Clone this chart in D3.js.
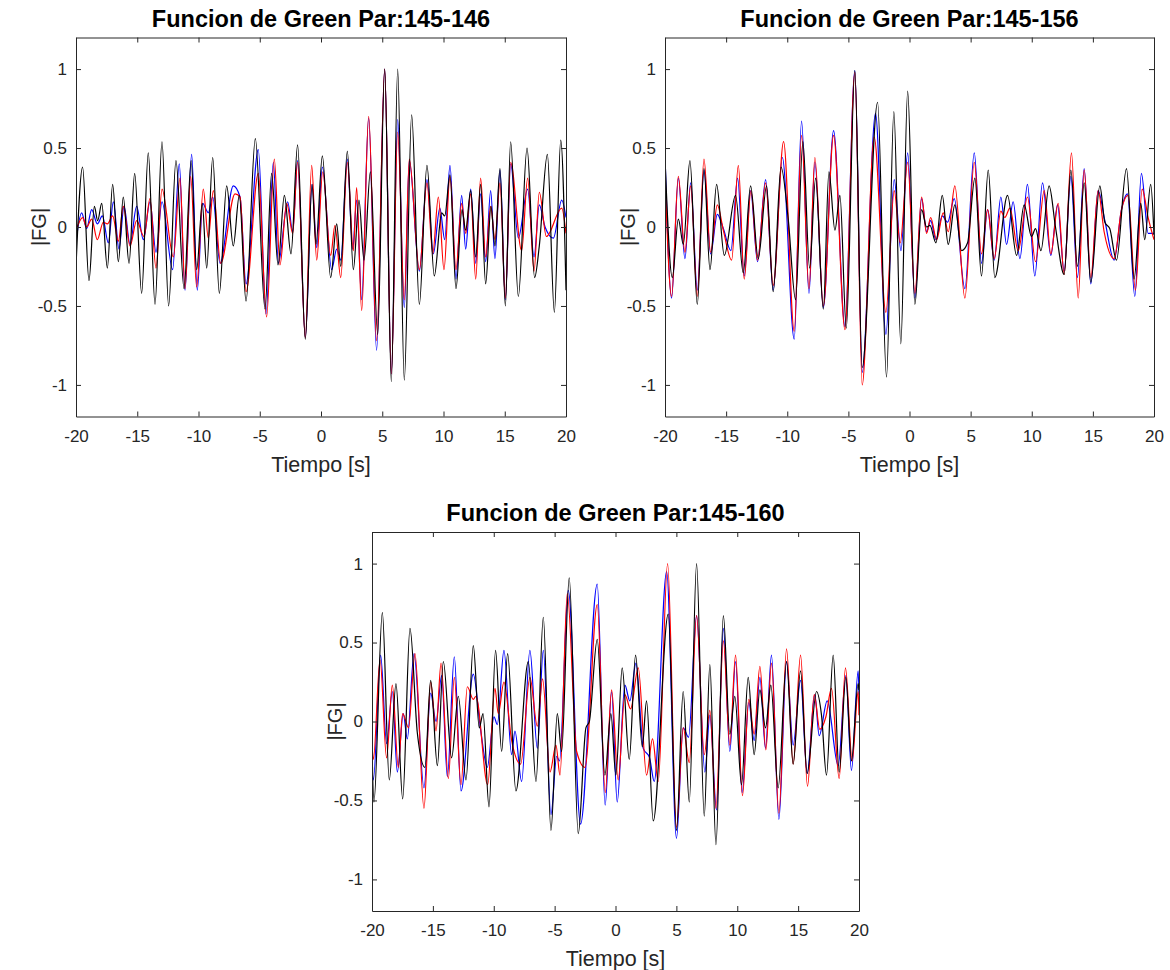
<!DOCTYPE html>
<html><head><meta charset="utf-8">
<script src="https://cdn.jsdelivr.net/npm/d3@7"></script>
<style>body{margin:0;background:#fff}</style></head>
<body>
<svg id="c" width="1170" height="970"></svg>
<script>
const xTicks=[-20,-15,-10,-5,0,5,10,15,20];
const yTicks=[-1,-0.5,0,0.5,1];
const titles=["Funcion de Green Par:145-146","Funcion de Green Par:145-156","Funcion de Green Par:145-160"];
const xLabel="Tiempo [s]";
const yLabel="|FG|";

const p1Black=[[-20,-0.25],[-19.46,0.38],[-18.94,-0.34],[-18.5,0.13],[-18.23,0.04],[-17.9,0.15],[-17.44,-0.26],[-17.01,0.27],[-16.54,-0.22],[-16.14,0.19],[-15.67,-0.23],[-15.21,0.34],[-14.64,-0.42],[-14.1,0.47],[-13.55,-0.49],[-12.98,0.54],[-12.44,-0.5],[-11.84,0.42],[-11.18,-0.39],[-10.6,0.42],[-10.15,-0.27],[-9.69,0.15],[-9.33,-0.26],[-8.84,0.44],[-8.3,-0.42],[-7.7,0.26],[-7.16,-0.12],[-6.67,0.2],[-6.12,-0.47],[-5.36,0.56],[-4.57,-0.52],[-4.03,0.34],[-3.51,-0.24],[-2.99,0.2],[-2.45,-0.17],[-1.91,0.52],[-1.28,-0.71],[-0.73,0.27],[-0.41,-0.11],[0.11,0.45],[0.79,-0.32],[1.28,0.02],[1.61,-0.25],[2.15,0.48],[2.64,-0.27],[3.1,0.17],[3.51,-0.21],[4.03,0.35],[4.63,-0.68],[5.2,1.0],[5.74,-0.98],[6.26,1.0],[6.8,-0.97],[7.4,0.71],[8.03,-0.49],[8.65,0.39],[9.25,-0.31],[9.85,0.09],[10.1,0.07],[10.53,0.33],[11.02,-0.39],[11.51,0.11],[11.81,-0.02],[12.22,0.23],[12.63,-0.19],[13.03,0.27],[13.44,-0.36],[13.88,0.13],[14.2,-0.12],[14.61,0.37],[15.05,-0.5],[15.48,0.54],[16.11,-0.44],[16.82,0.5],[17.44,-0.32],[17.82,-0.12],[18.48,0.46],[19.05,-0.54],[19.57,0.55],[20,-0.4]];
const p1Blue=[[-20,-0.09],[-19.54,0.09],[-19.13,-0.01],[-18.72,0.11],[-18.26,0.02],[-17.85,0.07],[-17.36,-0.1],[-16.95,0.16],[-16.49,-0.14],[-16.08,0.13],[-15.59,-0.11],[-15.05,0.13],[-14.5,-0.08],[-13.96,0.16],[-13.47,-0.16],[-12.98,0.16],[-12.11,-0.27],[-11.57,0.4],[-11.1,-0.4],[-10.56,0.46],[-10.1,-0.4],[-9.66,0.15],[-9.2,0.09],[-8.84,0.19],[-8.24,-0.23],[-7.16,0.26],[-6.61,0.19],[-6.12,-0.36],[-5.12,0.49],[-4.49,-0.55],[-3.89,0.41],[-3.48,-0.23],[-2.72,0.16],[-2.31,-0.03],[-1.91,0.42],[-1.28,-0.7],[-0.73,0.27],[-0.35,-0.13],[0.11,0.38],[0.87,-0.27],[1.28,-0.14],[1.61,-0.21],[2.15,0.43],[2.59,-0.14],[2.91,0.17],[3.32,-0.46],[3.89,0.69],[4.54,-0.78],[5.2,1.0],[5.74,-0.93],[6.26,0.68],[6.8,-0.51],[7.21,0.42],[8.03,-0.28],[8.65,0.3],[9.17,-0.17],[9.7,0.12],[10.1,-0.08],[10.53,0.39],[11.02,-0.33],[11.48,0.2],[11.81,-0.14],[12.22,0.24],[12.63,-0.23],[13.03,0.21],[13.44,-0.22],[13.85,0.23],[14.2,-0.2],[14.61,0.36],[15.05,-0.46],[15.48,0.4],[16.11,-0.07],[16.87,0.24],[17.39,-0.19],[17.82,0.14],[18.29,0.0],[18.97,-0.07],[19.65,0.17],[20,0.06]];
const p1Red=[[-20,-0.02],[-19.46,0.06],[-19.13,0.0],[-18.72,0.05],[-18.26,-0.08],[-17.77,0.03],[-17.44,0.02],[-17.01,0.07],[-16.54,-0.09],[-16.14,0.13],[-15.59,-0.12],[-15.05,0.04],[-14.45,-0.06],[-13.96,0.18],[-13.47,-0.26],[-12.98,0.24],[-12.05,-0.19],[-11.51,0.31],[-11.1,-0.39],[-10.64,0.32],[-10.15,-0.38],[-9.61,0.24],[-9.2,-0.07],[-8.79,0.23],[-8.19,-0.23],[-7.02,0.21],[-6.61,0.19],[-6.12,-0.41],[-5.12,0.34],[-4.44,-0.57],[-3.81,0.43],[-3.35,-0.24],[-2.8,0.15],[-2.31,-0.04],[-1.91,0.41],[-1.28,-0.7],[-0.76,0.39],[-0.35,-0.21],[0.14,0.35],[0.79,-0.18],[1.14,0.01],[1.61,-0.32],[2.15,0.41],[2.64,-0.15],[2.91,0.25],[3.32,-0.53],[3.89,0.7],[4.54,-0.72],[5.2,1.0],[5.74,-0.93],[6.26,0.6],[6.8,-0.46],[7.21,0.43],[8.03,-0.27],[8.65,0.28],[9.12,-0.17],[9.58,0.19],[10.04,-0.27],[10.53,0.32],[11.02,-0.27],[11.48,0.15],[11.81,-0.04],[12.22,0.21],[12.63,-0.33],[13.03,0.31],[13.44,-0.19],[13.85,0.13],[14.2,-0.08],[14.61,0.28],[15.05,-0.45],[15.48,0.41],[16.38,-0.15],[16.87,0.31],[17.39,-0.28],[17.82,0.22],[18.4,-0.06],[19.65,0.12],[20,-0.04]];

const p2Black=[[-20,0.43],[-19.4,-0.32],[-18.91,0.05],[-18.5,-0.11],[-17.96,0.42],[-17.36,-0.49],[-16.81,0.37],[-16.32,-0.27],[-15.78,0.27],[-15.15,-0.18],[-14.23,0.2],[-13.6,-0.29],[-13.0,0.26],[-12.37,-0.2],[-11.69,0.26],[-11.15,-0.41],[-10.51,0.38],[-9.92,0.05],[-9.32,-0.46],[-8.72,0.54],[-8.17,-0.26],[-7.68,0.31],[-7.05,-0.52],[-6.59,0.35],[-6.1,-0.02],[-5.69,0.2],[-5.17,-0.64],[-4.47,0.99],[-3.87,-0.89],[-2.61,0.79],[-1.88,-0.95],[-1.28,0.73],[-0.71,-0.74],[-0.15,0.86],[0.44,-0.49],[0.99,0.11],[1.4,0.0],[1.67,0.01],[2.16,-0.1],[2.68,0.2],[3.17,-0.11],[3.71,0.14],[4.26,-0.15],[4.75,-0.1],[5.35,0.31],[5.89,-0.31],[6.44,0.36],[6.98,-0.32],[8.02,0.2],[8.76,-0.18],[9.38,0.14],[9.98,-0.06],[10.31,-0.01],[10.75,-0.15],[11.42,0.26],[11.94,0.0],[12.65,-0.3],[13.2,0.36],[13.74,-0.25],[14.29,0.28],[14.83,-0.35],[15.57,0.26],[15.98,0.03],[16.38,-0.01],[16.93,-0.21],[17.75,0.37],[18.37,-0.33],[18.92,0.15],[19.24,-0.08],[19.73,0.27],[20,-0.05]];
const p2Blue=[[-20,0.46],[-19.46,-0.45],[-18.91,0.31],[-18.37,-0.2],[-17.9,0.28],[-17.36,-0.4],[-16.81,0.36],[-16.27,-0.17],[-15.72,0.08],[-15.23,-0.01],[-14.61,-0.15],[-14.06,0.31],[-13.52,-0.31],[-13.0,0.23],[-12.43,-0.22],[-11.77,0.3],[-11.15,-0.4],[-10.4,0.44],[-9.43,-0.71],[-8.83,0.67],[-8.22,-0.42],[-7.74,0.41],[-7.05,-0.51],[-6.21,0.61],[-5.28,-0.63],[-4.47,0.99],[-3.87,-0.92],[-2.78,0.72],[-1.93,-0.68],[-1.25,0.3],[-0.7,-0.15],[-0.15,0.47],[0.44,-0.45],[0.99,0.18],[1.4,-0.03],[1.73,0.04],[2.16,-0.08],[2.68,0.07],[3.12,0.03],[3.66,0.18],[4.53,-0.39],[5.3,0.47],[5.89,-0.23],[6.39,0.11],[6.93,-0.21],[7.47,0.19],[7.94,-0.11],[8.48,0.16],[9.03,-0.2],[9.65,0.27],[10.25,-0.31],[10.88,0.28],[11.56,-0.18],[12.11,0.14],[12.65,-0.28],[13.2,0.32],[13.74,-0.32],[14.29,0.37],[14.83,-0.36],[15.43,0.23],[15.98,0.04],[16.74,-0.21],[17.34,0.11],[17.83,0.21],[18.43,-0.44],[18.97,0.34],[19.52,-0.04],[20,-0.04]];
const p2Red=[[-20,0.34],[-19.46,-0.44],[-18.91,0.32],[-18.37,-0.16],[-17.9,0.26],[-17.36,-0.44],[-16.81,0.43],[-16.27,-0.16],[-15.72,0.14],[-15.23,-0.02],[-14.55,-0.21],[-14.0,0.39],[-13.52,-0.33],[-12.97,0.23],[-12.43,-0.21],[-11.77,0.28],[-11.15,-0.37],[-10.3,0.54],[-9.43,-0.66],[-8.83,0.58],[-8.22,-0.39],[-7.74,0.44],[-7.05,-0.5],[-6.21,0.58],[-5.28,-0.65],[-4.47,0.98],[-3.87,-1.0],[-2.89,0.57],[-1.93,-0.54],[-1.25,0.23],[-0.76,-0.1],[-0.15,0.41],[0.44,-0.42],[0.99,0.19],[1.4,-0.04],[1.73,0.06],[2.22,-0.08],[2.76,0.09],[3.17,-0.03],[3.71,0.26],[4.53,-0.45],[5.3,0.41],[5.89,-0.17],[6.39,0.11],[6.93,-0.2],[7.47,0.1],[7.8,0.06],[8.21,0.12],[8.89,-0.15],[9.65,0.19],[10.31,-0.22],[11.02,0.23],[11.56,-0.17],[12.16,0.15],[12.65,-0.3],[13.25,0.47],[13.8,-0.45],[14.29,0.36],[14.83,-0.32],[15.43,0.23],[15.92,-0.03],[16.74,-0.2],[17.34,0.11],[17.88,0.2],[18.48,-0.4],[19.03,0.24],[19.52,0.06],[20,-0.08]];

const p3Black=[[-20,-0.17],[-19.84,-0.51],[-19.15,0.69],[-18.58,-0.37],[-18.03,0.24],[-17.48,-0.49],[-16.88,0.59],[-16.28,-0.07],[-15.65,-0.29],[-15.18,0.26],[-14.63,-0.28],[-14.14,0.38],[-13.46,-0.23],[-12.91,0.16],[-12.28,-0.37],[-11.68,0.48],[-11.19,-0.04],[-10.88,0.05],[-10.39,-0.54],[-9.85,0.45],[-9.35,-0.19],[-8.86,0.43],[-8.18,-0.44],[-7.16,0.38],[-6.53,-0.38],[-5.93,0.66],[-5.3,-0.69],[-4.78,0.05],[-4.43,-0.19],[-3.8,0.91],[-3.06,-0.71],[-2.43,-0.04],[-2.15,0.0],[-1.5,0.52],[-0.87,-0.34],[-0.38,0.05],[0.03,-0.34],[0.55,0.34],[1.13,-0.24],[1.65,0.42],[2.2,-0.16],[2.55,0.13],[3.1,-0.63],[4.33,0.68],[5.01,-0.69],[5.56,0.19],[6.06,-0.51],[6.66,1.0],[7.29,-0.6],[7.75,0.36],[8.25,-0.78],[8.86,0.67],[9.39,-0.08],[9.8,0.16],[10.35,-0.4],[10.9,0.28],[11.39,-0.21],[11.86,0.2],[12.32,-0.04],[12.76,0.23],[13.36,-0.42],[14.05,0.38],[14.59,-0.27],[15.2,0.32],[15.74,-0.33],[16.51,0.19],[16.92,0.04],[17.33,-0.34],[17.88,0.42],[18.37,-0.32],[18.92,0.28],[19.38,-0.25],[19.93,0.24],[20,0.2]];
const p3Blue=[[-20,-0.31],[-19.89,-0.37],[-19.29,0.42],[-18.8,-0.14],[-18.33,0.19],[-17.92,-0.32],[-17.43,0.05],[-17.1,-0.11],[-16.55,0.43],[-15.73,-0.42],[-15.18,0.18],[-14.74,0.0],[-14.28,0.29],[-13.81,-0.35],[-13.24,0.41],[-12.69,-0.44],[-11.68,0.3],[-11.1,-0.04],[-10.53,-0.29],[-9.98,0.03],[-9.71,-0.02],[-9.16,0.45],[-8.53,-0.21],[-8.26,-0.06],[-7.71,-0.38],[-7.03,0.45],[-6.42,-0.17],[-5.93,0.45],[-5.3,-0.59],[-4.83,-0.22],[-4.6,-0.25],[-3.88,0.83],[-2.87,-0.65],[-1.5,0.87],[-0.85,-0.53],[-0.32,0.19],[0.14,-0.51],[0.77,0.23],[1.18,0.13],[1.68,0.37],[2.28,-0.17],[2.8,-0.23],[3.18,-0.38],[4.2,0.95],[5.01,-0.74],[5.56,-0.04],[6.0,-0.1],[6.66,0.67],[7.34,-0.32],[7.75,0.04],[8.3,-0.56],[8.86,0.59],[9.39,-0.19],[9.86,0.38],[10.4,-0.45],[10.95,0.12],[11.39,-0.12],[11.86,0.28],[12.32,-0.17],[12.81,0.42],[13.42,-0.62],[14.05,0.38],[14.59,-0.15],[15.2,0.26],[15.74,-0.33],[16.37,0.17],[16.73,-0.09],[17.39,0.13],[18.29,-0.28],[18.92,0.29],[19.38,-0.31],[19.93,0.32],[20,0.17]];
const p3Red=[[-20,-0.14],[-19.89,-0.24],[-19.34,0.39],[-18.8,-0.23],[-18.33,0.23],[-17.84,-0.29],[-17.48,0.05],[-17.0,-0.04],[-16.47,0.43],[-15.73,-0.55],[-15.18,0.25],[-14.74,-0.06],[-14.33,0.37],[-13.73,-0.36],[-13.24,0.28],[-12.69,-0.4],[-12.17,0.22],[-11.68,0.14],[-11.46,0.16],[-10.5,-0.4],[-9.9,0.21],[-9.63,0.05],[-9.16,0.25],[-8.53,-0.12],[-7.79,-0.27],[-7.03,0.28],[-6.42,-0.03],[-5.99,0.27],[-5.38,-0.32],[-4.89,-0.15],[-4.56,-0.34],[-3.96,0.81],[-3.19,-0.19],[-2.51,-0.29],[-1.5,0.74],[-0.84,-0.45],[-0.32,0.2],[0.22,-0.37],[0.77,0.17],[1.24,0.08],[1.87,0.34],[2.55,-0.34],[3.04,-0.11],[3.51,-0.38],[4.28,1.0],[5.01,-0.67],[5.56,-0.04],[6.06,-0.26],[6.66,0.67],[7.29,-0.21],[7.75,0.07],[8.25,-0.55],[8.86,0.51],[9.39,-0.15],[9.86,0.42],[10.43,-0.47],[10.95,0.14],[11.39,-0.08],[11.86,0.35],[12.35,-0.18],[12.81,0.37],[13.42,-0.58],[14.05,0.46],[14.59,-0.27],[15.2,0.42],[15.77,-0.41],[16.32,0.17],[16.78,-0.05],[17.28,0.03],[17.74,0.21],[18.37,-0.36],[18.89,0.34],[19.44,-0.25],[19.93,0.19],[20,0.04]];

const panels=[
  {title:titles[0],left:76,right:566,top:37.5,bottom:416.5,series:[p1Blue,p1Red,p1Black]},
  {title:titles[1],left:665,right:1154,top:37.5,bottom:416.5,series:[p2Blue,p2Red,p2Black]},
  {title:titles[2],left:372,right:859,top:532,bottom:911,series:[p3Blue,p3Red,p3Black]}
];
const colors=["#0000ff","#ff0000","#000000"];
const FONT="Arial, 'Liberation Sans', Helvetica, sans-serif";
const svg=d3.select("#c");
svg.append("rect").attr("width",1170).attr("height",970).attr("fill","#fff");

panels.forEach((p,i)=>{
  const x=d3.scaleLinear().domain([-20,20]).range([p.left,p.right]);
  const y=d3.scaleLinear().domain([-1.2,1.2]).range([p.bottom,p.top]);
  const g=svg.append("g");
  const cid="clip"+i;
  svg.append("clipPath").attr("id",cid).append("rect")
    .attr("x",p.left).attr("y",p.top).attr("width",p.right-p.left).attr("height",p.bottom-p.top);
  const line=d3.line().x(d=>x(d[0])).y(d=>y(d[1])).curve(d3.curveMonotoneX);
  const lg=g.append("g").attr("clip-path","url(#"+cid+")");
  p.series.forEach((s,k)=>{
    lg.append("path").datum(s).attr("d",line).attr("fill","none")
      .attr("stroke",colors[k]).attr("stroke-width",1.2).attr("stroke-linejoin","round");
  });
  const fmt=v=>String(v);
  const axB=g.append("g").attr("transform",`translate(0,${p.bottom})`)
    .call(d3.axisBottom(x).tickValues(xTicks).tickFormat(fmt).tickSizeInner(-5).tickSizeOuter(0).tickPadding(13));
  const axT=g.append("g").attr("transform",`translate(0,${p.top})`)
    .call(d3.axisTop(x).tickValues(xTicks).tickFormat("").tickSizeInner(-5).tickSizeOuter(0));
  const axL=g.append("g").attr("transform",`translate(${p.left},0)`)
    .call(d3.axisLeft(y).tickValues(yTicks).tickFormat(fmt).tickSizeInner(-5).tickSizeOuter(0).tickPadding(9));
  const axR=g.append("g").attr("transform",`translate(${p.right},0)`)
    .call(d3.axisRight(y).tickValues(yTicks).tickFormat("").tickSizeInner(-5).tickSizeOuter(0));
  [axB,axT,axL,axR].forEach(a=>{
    a.selectAll("path.domain").attr("stroke","#262626").attr("stroke-width",1);
    a.selectAll(".tick line").attr("stroke","#262626").attr("stroke-width",1);
    a.selectAll("text").attr("fill","#262626").style("font-family",FONT).style("font-size","17px");
  });
  g.append("text").attr("x",(p.left+p.right)/2).attr("y",p.top-11)
    .attr("text-anchor","middle").style("font-family",FONT).style("font-size","23.5px")
    .style("font-weight","bold").attr("fill","#000").text(p.title);
  g.append("text").attr("x",(p.left+p.right)/2).attr("y",p.bottom+55)
    .attr("text-anchor","middle").style("font-family",FONT).style("font-size","21.5px")
    .attr("fill","#262626").text(xLabel);
  g.append("text").attr("transform",`translate(${p.left-37},${(p.top+p.bottom)/2}) rotate(-90)`)
    .attr("text-anchor","middle").attr("dy","0.35em").style("font-family",FONT).style("font-size","20px")
    .attr("fill","#262626").text(yLabel);
});
</script>
</body></html>
